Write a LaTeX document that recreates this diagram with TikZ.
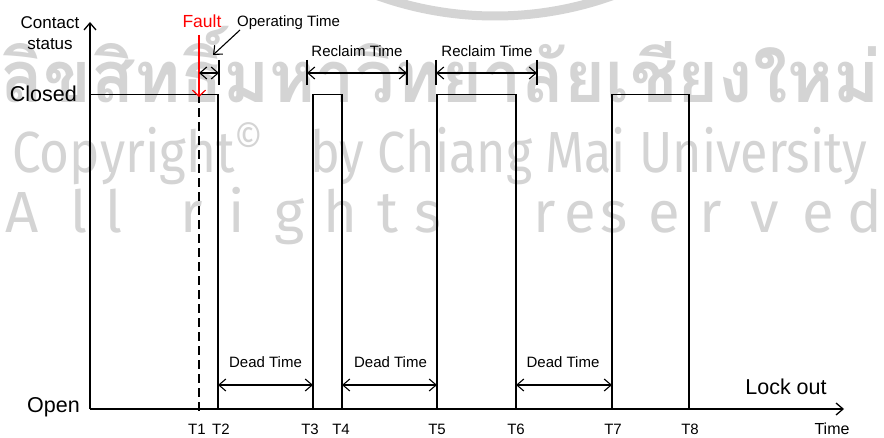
\documentclass[tikz,border=0pt]{standalone}
\usepackage{fontspec}
\usepackage{graphicx}
\setmainfont{Liberation Sans}
\newfontfamily\wmlatin{Fira Sans}
\newfontfamily\wmthai[Script=Thai]{Loma}
\usetikzlibrary{arrows.meta}
\definecolor{wm}{RGB}{212,212,212}
\definecolor{faultred}{RGB}{255,0,0}
\begin{document}
\begin{tikzpicture}[x=1pt,y=-1pt,
  sig/.style={line width=1.3pt, line join=miter},
  dimline/.style={line width=1.1pt, <->},
  tickline/.style={line width=1.1pt},
  lbl/.style={inner sep=0pt, anchor=base, font=\fontsize{15}{15}\selectfont},
  tlbl/.style={inner sep=0pt, anchor=base, font=\fontsize{15}{15}\selectfont},
  big/.style={inner sep=0pt, font=\fontsize{21.5}{21.5}\selectfont},
  wmtext/.style={inner sep=0pt, text=wm},
  >={Straight Barb[length=7pt,width=12pt]}]
\useasboundingbox (0,0) rectangle (884,438);
\fill[white] (0,0) rectangle (884,438);
% ---------- watermark ----------
\begin{scope}
\clip (0,0) rectangle (884,438);
\draw[wm, line width=9pt] (495,-332) circle[radius=348];
\end{scope}
\node[wmtext, anchor=base west] (wmthai) at (0,103)
  {\resizebox{880pt}{\height}{\wmthai\bfseries\fontsize{72}{72}\selectfont ลิขสิทธิ์มหาวิทยาลัยเชียงใหม่}};
\node[wmtext, anchor=base west] (wmcopy) at (12,173)
  {\resizebox{251pt}{\height}{\wmlatin\fontsize{58}{58}\selectfont Copyright\raisebox{20pt}{\fontsize{40}{40}\selectfont ©}}};
\node[wmtext, anchor=base west] (wmcmu) at (310,173)
  {\resizebox{557pt}{\height}{\wmlatin\fontsize{58}{58}\selectfont by Chiang Mai University}};
\foreach \ch/\xx [count=\i] in {A/22,l/79,l/114,r/192,i/237,g/290,h/340,t/388,s/428,r/545,e/580,s/614,e/664,r/711,v/765,e/818,d/865}
  \node[wmtext, anchor=base, font=\wmlatin\fontsize{58}{58}\selectfont] (wmr\i) at (\xx,233) {\ch};
% ---------- axes ----------
\coordinate (O) at (90,409);
\coordinate (ytop) at (90,22);
\coordinate (xend) at (844,409);
\draw[sig,->] (O) -- (ytop);
\draw[sig,->] (O) -- (xend);
\node[inner sep=0pt, anchor=base, font=\fontsize{17}{17}\selectfont] (contact) at (50,29) {Contact};
\node[inner sep=0pt, anchor=base, font=\fontsize{17}{17}\selectfont] (status) at (50,50) {status};
\node[big, anchor=base east] (closed) at (77,102) {Closed};
\node[big, anchor=base east] (open) at (80,413) {Open};
\node[big, anchor=base] (lockout) at (786,395) {Lock out};
\node[inner sep=0pt, anchor=base, font=\fontsize{16}{16}\selectfont] (time) at (832,435) {Time};
% ---------- waveform ----------
\coordinate (c0) at (90,94.5);
\coordinate (t2u) at (218,94.5);
\coordinate (t2d) at (218,409);
\draw[sig] (c0) -- (t2u) -- (t2d);
\draw[sig] (313,409) -- (313,94.5) -- (342,94.5) -- (342,409);
\draw[sig] (437,409) -- (437,94.5) -- (516,94.5) -- (516,409);
\draw[sig] (612,409) -- (612,94.5) -- (689,94.5) -- (689,409);
% T1 dashed
\coordinate (t1u) at (199,94.5);
\coordinate (t1d) at (199,413);
\draw[line width=1.3pt, dash pattern=on 9pt off 5pt] (t1u) -- (t1d);
% time labels
\node[tlbl] (T1) at (197,435) {T1};
\node[tlbl] (T2) at (221,435) {T2};
\node[tlbl] (T3) at (310,435) {T3};
\node[tlbl] (T4) at (341,435) {T4};
\node[tlbl] (T5) at (437,435) {T5};
\node[tlbl] (T6) at (516,435) {T6};
\node[tlbl] (T7) at (613,435) {T7};
\node[tlbl] (T8) at (690,435) {T8};
% ---------- fault ----------
\node[inner sep=0pt, anchor=base, text=faultred, font=\fontsize{17.5}{17.5}\selectfont] (fault) at (202,28) {Fault};
\coordinate (fs) at (199,35);
\coordinate (fe) at (199,97);
\draw[faultred, line width=1.2pt, -{Straight Barb[length=6pt,width=13pt]}] (fs) -- (fe);
% ---------- operating time ----------
\node[lbl, anchor=base west] (optime) at (237,27) {Operating Time};
\coordinate (ps) at (240,30);
\coordinate (pe) at (213,55);
\draw[line width=1.1pt, ->] (ps) -- (pe);
\coordinate (oa) at (199,73);
\coordinate (ob) at (219,73);
\draw[dimline] (oa) -- (ob);
\draw[tickline] (219,60) -- (219,85);
% ---------- reclaim time ----------
\node[lbl] (rc1) at (357,57) {Reclaim Time};
\node[lbl] (rc2) at (487,57) {Reclaim Time};
\coordinate (r1a) at (307,73); \coordinate (r1b) at (407,73);
\coordinate (r2a) at (436,73); \coordinate (r2b) at (537,73);
\draw[dimline] (r1a) -- (r1b);
\draw[dimline] (r2a) -- (r2b);
\foreach \xx in {307,407,436,537} \draw[tickline] (\xx,60) -- (\xx,85);
% ---------- dead time ----------
\node[lbl] (dt1) at (265.5,368) {Dead Time};
\node[lbl] (dt2) at (390.5,368) {Dead Time};
\node[lbl] (dt3) at (563,368) {Dead Time};
\coordinate (d1a) at (218,385); \coordinate (d1b) at (313,385);
\coordinate (d2a) at (342,385); \coordinate (d2b) at (437,385);
\coordinate (d3a) at (516,385); \coordinate (d3b) at (612,385);
\draw[dimline] (d1a) -- (d1b);
\draw[dimline] (d2a) -- (d2b);
\draw[dimline] (d3a) -- (d3b);
\end{tikzpicture}
\end{document}
